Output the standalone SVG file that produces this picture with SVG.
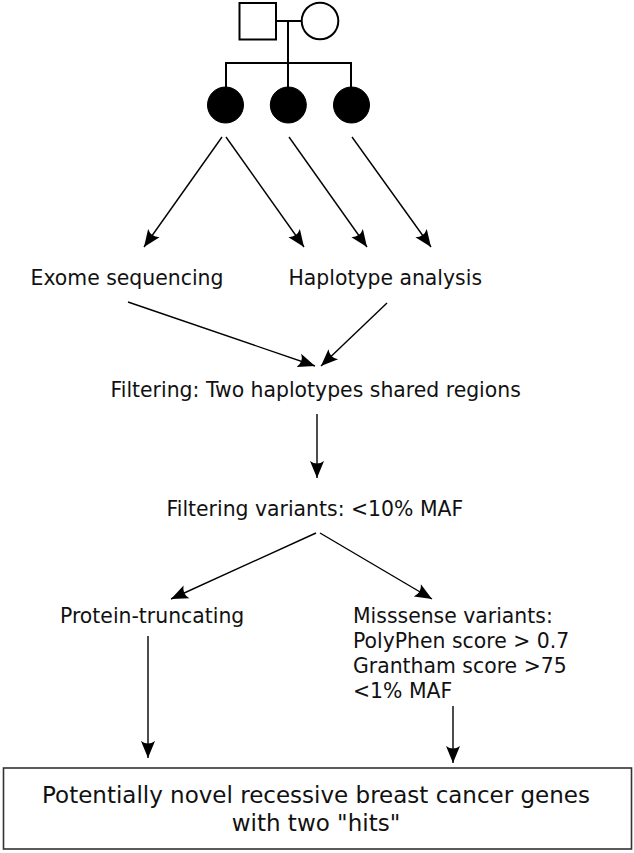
<svg xmlns="http://www.w3.org/2000/svg" width="634" height="853" viewBox="0 0 634 853">
<style>
  .t{font-family:"DejaVu Sans","Liberation Sans",sans-serif;font-size:20.4px;fill:#111}
  .big{font-size:23px}
  .ped{fill:#fff;stroke:#000;stroke-width:2}
  .aff{fill:#000;stroke:#000;stroke-width:1}
  .pl{stroke:#000;stroke-width:2;fill:none}
  .c{stroke:#000;stroke-width:1.4;fill:none;marker-end:url(#ah)}
  .box{fill:#fff;stroke:#333;stroke-width:1.6}
</style>
<defs>
  <marker id="ah" markerUnits="userSpaceOnUse" markerWidth="20" markerHeight="18" viewBox="-18 -9 20 18" refX="0" refY="0" orient="auto">
    <path d="M0,0 L-17,-7 Q-12,0 -17,7 Z" fill="#000"/>
  </marker>
</defs>
<rect width="634" height="853" fill="#fff"/>

<g id="pedigree">
  <line class="pl" x1="276" y1="21" x2="302" y2="21"/>
  <line class="pl" x1="288" y1="21" x2="288" y2="63"/>
  <line class="pl" x1="226" y1="63" x2="351" y2="63"/>
  <line class="pl" x1="226" y1="62" x2="226" y2="90"/>
  <line class="pl" x1="288" y1="62" x2="288" y2="90"/>
  <line class="pl" x1="351" y1="62" x2="351" y2="90"/>
  <rect id="father" class="ped" x="239.5" y="3" width="36.5" height="36.5"/>
  <circle id="mother" class="ped" cx="320" cy="21" r="18.3"/>
  <circle id="child1" class="aff" cx="225.5" cy="105" r="18"/>
  <circle id="child2" class="aff" cx="288.3" cy="105" r="18"/>
  <circle id="child3" class="aff" cx="351.5" cy="105" r="18"/>
</g>

<g id="connectors">
  <line class="c" x1="222" y1="137" x2="144" y2="247"/>
  <line class="c" x1="226" y1="137" x2="304" y2="247"/>
  <line class="c" x1="289" y1="137" x2="367" y2="247"/>
  <line class="c" x1="352" y1="137" x2="431" y2="247"/>
  <line class="c" x1="128" y1="302" x2="315" y2="366"/>
  <line class="c" x1="387" y1="303" x2="321" y2="366"/>
  <line class="c" x1="317" y1="414" x2="317" y2="478"/>
  <line class="c" x1="316" y1="533" x2="171" y2="599"/>
  <line class="c" x1="320" y1="533" x2="432" y2="599"/>
  <line class="c" x1="148" y1="636" x2="148" y2="758"/>
  <line class="c" x1="453" y1="706" x2="453" y2="763"/>
</g>

<g id="exome"><text class="t" x="30.5" y="285">Exome sequencing</text></g>
<g id="haplotype"><text class="t" x="288.5" y="285">Haplotype analysis</text></g>
<g id="filtering"><text class="t" x="110.5" y="397">Filtering: Two haplotypes shared regions</text></g>
<g id="filtering-variants"><text class="t" x="166.5" y="516">Filtering variants: &lt;10% MAF</text></g>
<g id="protein-truncating"><text class="t" x="60" y="623">Protein-truncating</text></g>
<g id="missense">
  <text class="t" x="353" y="623">Misssense variants:</text>
  <text class="t" x="353" y="648">PolyPhen score &gt; 0.7</text>
  <text class="t" x="353" y="673">Grantham score &gt;75</text>
  <text class="t" x="353" y="698">&lt;1% MAF</text>
</g>
<g id="result">
  <rect class="box" x="3.5" y="768" width="628" height="81"/>
  <text class="t big" x="316" y="803" text-anchor="middle">Potentially novel recessive breast cancer genes</text>
  <text class="t big" x="316" y="831" text-anchor="middle">with two "hits"</text>
</g>
</svg>
